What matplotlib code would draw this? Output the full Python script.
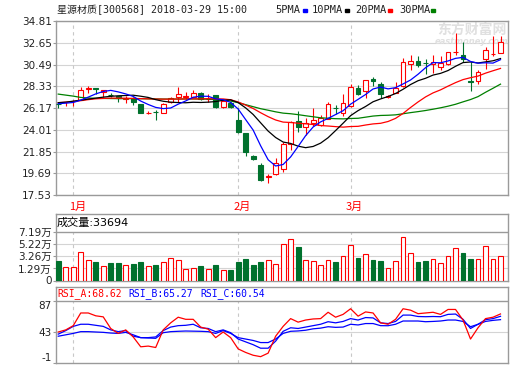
import numpy as np
import matplotlib
matplotlib.use("Agg")
import matplotlib.pyplot as plt
import matplotlib.transforms as mtransforms
from matplotlib.patches import Rectangle

plt.rcParams['font.family'] = ['DejaVu Sans', 'Noto Sans CJK SC']

# ---------------- data ----------------
stock_title = "星源材质[300568] 2018-03-29 15:00"

opens = [26.56, 26.72, 26.84, 26.97, 28.10, 28.15, 27.80, 27.50, 27.35, 27.10,
         27.20, 26.57, 25.68, 25.80, 25.65, 26.74, 27.24, 27.28, 27.30, 27.70,
         27.05, 27.47, 26.31, 26.71, 24.99, 23.66, 21.41, 20.52, 19.33, 19.59,
         20.09, 22.60, 24.89, 24.26, 24.66, 24.52, 25.09, 26.20, 25.71, 26.38,
         28.13, 27.87, 29.06, 28.56, 27.28, 27.70, 28.36, 30.52, 30.85, 30.63,
         30.55, 30.22, 30.52, 31.69, 31.48, 28.82, 28.89, 31.01, 31.52, 31.67]
highs = [26.62, 26.80, 26.95, 28.30, 28.36, 28.15, 28.00, 27.63, 27.37, 27.37,
         27.25, 26.60, 25.88, 25.98, 26.64, 27.30, 28.30, 27.80, 27.97, 27.75,
         27.57, 27.50, 26.90, 26.75, 26.14, 23.70, 21.50, 20.75, 19.62, 21.24,
         22.83, 24.85, 25.88, 25.15, 26.21, 25.48, 26.80, 26.48, 27.57, 28.56,
         28.46, 29.00, 29.22, 28.76, 27.47, 28.79, 31.11, 31.44, 31.38, 31.01,
         31.44, 31.34, 31.77, 33.60, 32.77, 30.78, 29.95, 32.27, 33.33, 33.33]
lows = [26.14, 26.38, 26.38, 26.97, 27.63, 27.57, 27.30, 27.24, 26.80, 26.70,
        26.48, 25.71, 25.55, 25.00, 25.65, 26.64, 26.81, 27.07, 27.24, 27.00,
        26.81, 26.20, 26.14, 26.20, 23.73, 21.41, 21.05, 18.93, 18.76, 19.52,
        19.85, 22.00, 23.83, 23.50, 24.39, 24.39, 25.09, 25.58, 25.38, 26.30,
        27.50, 27.14, 28.36, 27.20, 27.14, 27.68, 28.30, 29.95, 30.28, 29.56,
        29.62, 29.95, 30.45, 31.44, 30.78, 27.87, 28.56, 30.05, 31.34, 31.61]
closes = [26.52, 26.76, 26.90, 27.93, 28.15, 28.10, 27.97, 27.45, 27.20, 27.15,
          26.81, 25.71, 25.72, 25.76, 26.54, 27.14, 27.57, 27.32, 27.63, 27.04,
          27.09, 26.31, 26.87, 26.31, 23.79, 21.84, 21.11, 19.03, 19.40, 20.68,
          22.60, 24.82, 24.26, 24.72, 24.99, 25.15, 26.57, 26.15, 26.64, 28.23,
          27.57, 28.96, 28.90, 27.57, 27.33, 28.20, 30.78, 30.85, 30.42, 30.59,
          30.78, 30.68, 31.71, 31.73, 31.08, 28.77, 29.79, 31.94, 31.56, 32.77]

ma5 = [26.60, 26.65, 26.72, 26.95, 27.25, 27.57, 27.81, 27.92, 27.77, 27.57,
       27.32, 26.86, 26.52, 26.23, 26.11, 26.17, 26.55, 26.87, 27.24, 27.34,
       27.33, 27.08, 26.99, 26.72, 26.07, 25.02, 23.98, 22.42, 21.03, 20.41,
       20.56, 21.31, 22.35, 23.42, 24.28, 24.79, 25.14, 25.52, 25.90, 26.55,
       27.03, 27.51, 28.06, 28.25, 28.07, 28.19, 28.56, 28.95, 29.52, 30.17,
       30.68, 30.66, 30.84, 31.10, 31.20, 30.79, 30.62, 30.66, 30.63, 30.97]
ma10 = [26.70, 26.75, 26.85, 26.95, 27.05, 27.15, 27.25, 27.33, 27.38, 27.41,
        27.44, 27.34, 27.22, 27.00, 26.84, 26.75, 26.71, 26.69, 26.74, 26.72,
        26.75, 26.81, 26.93, 26.98, 26.71, 26.18, 25.53, 24.70, 23.88, 23.24,
        22.79, 22.65, 22.38, 22.23, 22.35, 22.68, 23.22, 23.93, 24.66, 25.41,
        25.91, 26.32, 26.79, 27.07, 27.31, 27.61, 28.03, 28.50, 28.88, 29.12,
        29.44, 29.61, 29.89, 30.31, 30.68, 30.74, 30.64, 30.75, 30.86, 31.08]
ma20 = [26.70, 26.75, 26.80, 26.90, 27.00, 27.08, 27.12, 27.15, 27.15, 27.14,
        27.12, 27.10, 27.08, 27.06, 27.05, 27.05, 27.06, 27.07, 27.08, 27.07,
        27.10, 27.07, 27.07, 26.99, 26.77, 26.46, 26.12, 25.70, 25.31, 24.98,
        24.77, 24.73, 24.66, 24.60, 24.53, 24.43, 24.38, 24.32, 24.27, 24.33,
        24.35, 24.48, 24.59, 24.65, 24.83, 25.14, 25.63, 26.22, 26.77, 27.27,
        27.67, 27.97, 28.34, 28.69, 28.99, 29.18, 29.34, 29.63, 29.87, 30.10]
ma30 = [27.55, 27.45, 27.35, 27.22, 27.16, 27.13, 27.12, 27.11, 27.10, 27.10,
        27.10, 27.09, 27.08, 27.07, 27.06, 27.06, 27.06, 27.07, 27.07, 27.06,
        27.05, 27.00, 26.95, 26.86, 26.70, 26.50, 26.30, 26.10, 25.95, 25.79,
        25.66, 25.60, 25.51, 25.40, 25.30, 25.20, 25.15, 25.11, 25.09, 25.13,
        25.15, 25.26, 25.37, 25.43, 25.45, 25.49, 25.60, 25.71, 25.81, 25.92,
        26.05, 26.19, 26.35, 26.54, 26.78, 27.01, 27.30, 27.73, 28.13, 28.54]

volumes = [2.54, 1.50, 1.50, 3.96, 2.65, 2.32, 1.67, 2.16, 2.16, 1.83,
           1.99, 2.32, 1.67, 1.83, 2.32, 2.98, 2.65, 1.18, 1.34, 1.67,
           1.18, 1.83, 1.01, 1.01, 2.32, 2.82, 1.83, 2.32, 2.65, 1.99,
           5.27, 6.09, 4.78, 2.65, 2.49, 1.83, 2.65, 2.32, 3.31, 5.11,
           2.98, 3.63, 2.65, 2.49, 1.34, 2.49, 6.42, 3.80, 2.32, 2.49,
           2.82, 2.16, 3.31, 4.62, 3.80, 2.82, 2.82, 4.94, 2.82, 3.37]
volume_last = 33694

rsi_a = [43.0, 46.0, 52.0, 70.0, 70.0, 66.0, 64.5, 48.0, 41.0, 46.0,
         36.0, 22.0, 23.0, 21.0, 46.0, 56.0, 64.0, 61.0, 61.0, 50.0,
         47.0, 35.0, 43.0, 35.0, 19.0, 14.0, 10.0, 8.0, 13.0, 37.0,
         51.0, 62.0, 57.0, 60.0, 61.5, 62.0, 71.0, 64.0, 68.0, 76.0,
         65.5, 71.5, 70.0, 56.0, 54.0, 61.0, 76.0, 74.0, 69.0, 70.0,
         71.0, 68.0, 75.0, 75.0, 60.0, 33.0, 49.0, 62.0, 64.0, 68.62]
rsi_b = [40.0, 45.0, 51.0, 54.0, 54.0, 52.5, 51.0, 46.0, 43.5, 45.0,
         37.0, 35.0, 35.0, 36.0, 45.0, 50.0, 52.0, 52.5, 54.0, 49.0,
         48.0, 43.5, 46.0, 42.0, 33.0, 29.0, 25.0, 20.0, 20.0, 30.0,
         44.0, 49.0, 48.0, 50.0, 52.0, 54.0, 57.6, 56.0, 58.0, 62.0,
         60.0, 63.5, 63.0, 56.0, 55.0, 58.0, 67.0, 67.0, 65.0, 64.7,
         65.0, 64.7, 68.0, 68.5, 61.0, 48.0, 54.0, 60.5, 62.0, 65.27]
rsi_c = [37.0, 39.0, 41.0, 43.5, 43.5, 43.0, 42.5, 41.5, 41.0, 42.5,
         39.0, 35.0, 34.5, 34.0, 42.0, 43.5, 44.0, 44.4, 44.2, 44.0,
         43.5, 41.0, 45.0, 41.0, 35.0, 33.0, 31.0, 28.0, 28.0, 33.0,
         41.0, 44.0, 44.5, 45.5, 47.5, 48.5, 50.5, 49.6, 50.0, 54.0,
         53.0, 55.0, 55.0, 52.0, 51.9, 54.0, 58.6, 58.6, 58.6, 57.6,
         58.0, 58.6, 60.0, 60.0, 58.0, 50.5, 53.9, 58.0, 59.5, 60.54]

price_ticks = [17.53, 19.69, 21.85, 24.01, 26.17, 28.33, 30.49, 32.65, 34.81]
volume_ticks = [1.29, 3.26, 5.22, 7.19]
volume_floor = -0.675
rsi_ticks = [-1, 43, 87]
month_starts = [2, 24, 39]
month_labels = ['1月', '2月', '3月']
ma_names = ['5PMA', '10PMA', '20PMA', '30PMA']
rsi_names = ['RSI_A', 'RSI_B', 'RSI_C']

# ---------------- style ----------------
RED = '#ff0000'
GREEN = '#00712d'
BLUE = '#0000ff'
BLACK = '#000000'
MAGREEN = '#008000'
BORDER = '#9a9a9a'
GRID = '#d4d4d4'
DASH = '#c8c8c8'
TXT = '#222222'

W, H = 520, 365
fig = plt.figure(figsize=(W / 100, H / 100), dpi=100, facecolor='white')


def rect(l, t, r, b):
    return [l / W, 1 - b / H, (r - l) / W, (b - t) / H]


def fx(px):
    return px / W


def fy(py):
    return 1 - py / H


ax = fig.add_axes(rect(56, 21, 508, 195))
axv = fig.add_axes(rect(56, 214, 508, 280.5))
axr = fig.add_axes(rect(56, 287, 508, 363))

n = len(closes)
idx = np.arange(n)
o = np.array(opens)
c = np.array(closes)
hi = np.array(highs)
lo = np.array(lows)
up = c >= o
edge_cols = np.where(up, RED, GREEN)
face_cols = np.where(up, 'white', GREEN)

for a in (ax, axv, axr):
    a.set_xlim(-0.3, n)
    a.set_xticks([])
    for s in a.spines.values():
        s.set_color(BORDER)
        s.set_linewidth(1.0)
    a.tick_params(axis='y', length=2, width=0.8, color=BORDER, pad=1,
                  labelsize=7.5, labelcolor=TXT)

# ---- main price panel ----
ax.set_ylim(price_ticks[0], price_ticks[-1])
ax.set_yticks(price_ticks)
ax.set_yticklabels([f'{t:.2f}' for t in price_ticks])
ax.yaxis.grid(True, color=GRID, lw=0.8)
ax.set_axisbelow(True)
ax.vlines(month_starts, price_ticks[0], price_ticks[-1], colors=DASH, lw=0.8,
          linestyles=(0, (3, 3)), zorder=1)

ax.text(0.92, 0.948, '东方财富网', transform=ax.transAxes, ha='center', va='center',
        fontsize=10, fontweight='bold', color='#e0e0e0',
        family=['Noto Sans CJK SC'], zorder=1)
ax.text(0.92, 0.885, 'eastmoney.com', transform=ax.transAxes, ha='center', va='center',
        fontsize=6, fontweight='bold', style='italic', color='#e0e0e0', zorder=1)

ax.vlines(idx, lo, hi, colors=edge_cols, lw=0.8, zorder=3)
body_bot = np.minimum(o, c)
body_h = np.maximum(np.abs(c - o), 0.015)
ax.bar(idx, body_h, bottom=body_bot, width=0.64, color=face_cols,
       edgecolor=edge_cols, linewidth=0.8, zorder=4)

ax.plot(idx, ma30, color=MAGREEN, lw=0.9, zorder=5)
ax.plot(idx, ma20, color=RED, lw=0.9, zorder=5)
ax.plot(idx, ma10, color=BLACK, lw=0.9, zorder=5)
ax.plot(idx, ma5, color=BLUE, lw=0.9, zorder=6)

# month labels
month_trans = mtransforms.offset_copy(
    mtransforms.blended_transform_factory(ax.transData, fig.transFigure),
    fig=fig, x=-3.3, y=0, units='points')
for m, lab in zip(month_starts, month_labels):
    ax.text(m, fy(206.7), lab, transform=month_trans, ha='left', va='center',
            fontsize=8, color=RED, family=['Noto Sans CJK SC'], clip_on=False)

# ---- volume panel ----
v_sep_px, v_top_px, v_bot_px = 232.3, 214, 280.5
v_top = volume_ticks[-1] + (v_sep_px - v_top_px) / (v_bot_px - v_sep_px) * (volume_ticks[-1] - volume_floor)
axv.set_ylim(volume_floor, v_top)
axv.set_yticks([volume_floor] + volume_ticks)
axv.set_yticklabels(['0'] + [f'{t:.2f}万' for t in volume_ticks])
axv.hlines(volume_ticks[:-1], -0.3, n, colors=GRID, lw=0.8, zorder=0)
axv.axhline(volume_ticks[-1], color=BORDER, lw=1.0, zorder=2)
axv.vlines(month_starts, volume_floor, volume_ticks[-1], colors=DASH, lw=0.8,
           linestyles=(0, (3, 3)), zorder=1)
vols = np.array(volumes)
axv.bar(idx, vols - volume_floor, bottom=volume_floor, width=0.64, color=face_cols,
        edgecolor=edge_cols, linewidth=0.8, zorder=3)

# ---- RSI panel ----
r_sep_px, r_top_px, r_bot_px = 301, 287, 363
r_top = rsi_ticks[-1] + (r_sep_px - r_top_px) / (r_bot_px - r_sep_px) * (rsi_ticks[-1] - rsi_ticks[0])
axr.set_ylim(rsi_ticks[0], r_top)
axr.set_yticks(rsi_ticks)
rlabels = axr.set_yticklabels([str(t) for t in rsi_ticks])
rlabels[0].set_verticalalignment('bottom')
rlabels[-1].set_verticalalignment('top')
axr.axhline(rsi_ticks[1], color=GRID, lw=0.8, zorder=0)
axr.axhline(rsi_ticks[-1], color=BORDER, lw=1.0, zorder=2)
axr.vlines(month_starts, rsi_ticks[0], rsi_ticks[-1], colors=DASH, lw=0.8,
           linestyles=(0, (3, 3)), zorder=1)
axr.plot(idx, rsi_c, color=BLUE, lw=0.9, zorder=3)
axr.plot(idx, rsi_b, color=BLUE, lw=0.9, zorder=3)
axr.plot(idx, rsi_a, color=RED, lw=0.9, zorder=4)

# ---- header texts ----
fig.text(fx(57), fy(9.5), stock_title, ha='left', va='center', fontsize=7.2,
         color=TXT, family=['DejaVu Sans Mono', 'Noto Sans CJK SC'])

legend_x = [275, 311.7, 355.7, 399.3]
square_x = [302.7, 345, 387.7, 431]
ma_colors = [BLUE, BLACK, RED, MAGREEN]
for name, tx, sx, col in zip(ma_names, legend_x, square_x, ma_colors):
    fig.text(fx(tx), fy(10), name, ha='left', va='center', fontsize=7.5,
             color=TXT, family=['DejaVu Sans Mono'])
    fig.patches.append(Rectangle((fx(sx), fy(11.8)), 4.2 / W, 3.2 / H,
                                 transform=fig.transFigure, color=col))

fig.text(fx(57), fy(223), f'成交量:{volume_last}', ha='left', va='center',
         fontsize=8, color=BLACK)

rsi_last = [rsi_a[-1], rsi_b[-1], rsi_c[-1]]
rsi_x = [57, 128.3, 200]
for name, val, tx, col in zip(rsi_names, rsi_last, rsi_x, [RED, BLUE, BLUE]):
    fig.text(fx(tx), fy(294), f'{name}:{val:.2f}', ha='left', va='center',
             fontsize=7, color=col, family=['DejaVu Sans Mono'])

fig.savefig('out.png', dpi=100, facecolor='white')
